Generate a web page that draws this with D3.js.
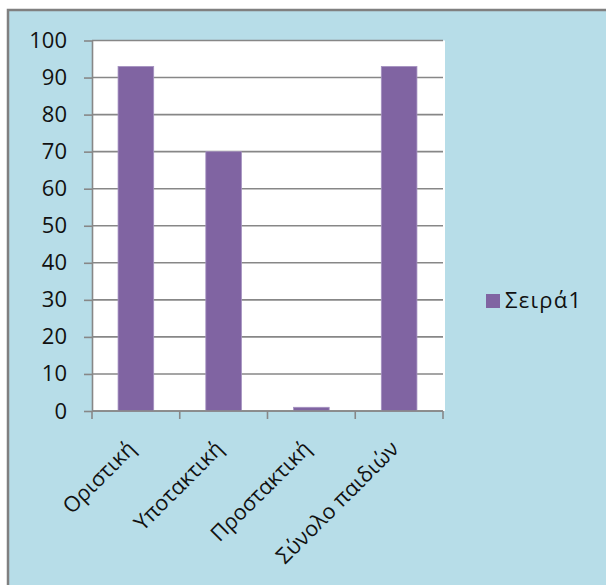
<!DOCTYPE html>
<html>
<head>
<meta charset="utf-8">
<script src="https://cdn.jsdelivr.net/npm/d3@7"></script>
<style>
  html, body { margin: 0; padding: 0; background: #ffffff; }
  svg { display: block; }
  text { font-family: "Open Sans", "Noto Sans", sans-serif; fill: #111; }
</style>
</head>
<body>
<svg id="chart" width="606" height="585"></svg>
<script>
// Chart data
const categories = ["Οριστική", "Υποτακτική", "Προστακτική", "Σύνολο παιδιών"];
const values = [93, 70, 1, 93];
const seriesName = "Σειρά1";
const yTicks = [0, 10, 20, 30, 40, 50, 60, 70, 80, 90, 100];

const svg = d3.select("#chart");

// Outer chart frame
svg.append("rect")
  .attr("x", 8).attr("y", 10)
  .attr("width", 606).attr("height", 585)
  .attr("fill", "#b7dde8")
  .attr("stroke", "#808080")
  .attr("stroke-width", 2.5);

const plot = { left: 92, right: 443, top: 40.5, bottom: 411 };

const x = d3.scaleBand()
  .domain(categories)
  .range([plot.left, plot.right])
  .paddingInner(0.594)
  .paddingOuter(0.297);

const y = d3.scaleLinear()
  .domain([0, 100])
  .range([plot.bottom, plot.top]);

// White plot area
svg.append("rect")
  .attr("x", plot.left).attr("y", plot.top)
  .attr("width", plot.right - plot.left + 2)
  .attr("height", plot.bottom - plot.top)
  .attr("fill", "#ffffff");

// Horizontal gridlines
svg.append("g")
  .selectAll("line")
  .data(yTicks)
  .join("line")
  .attr("x1", plot.left).attr("x2", plot.right)
  .attr("y1", d => y(d)).attr("y2", d => y(d))
  .attr("stroke", "#878787")
  .attr("stroke-width", 1.6);

// Value axis: tick stubs and labels
const gy = svg.append("g")
  .attr("transform", `translate(${plot.left},0)`)
  .call(d3.axisLeft(y).tickValues(yTicks).tickSize(8).tickSizeOuter(0).tickPadding(17));
gy.select(".domain")
  .attr("stroke", "#878787").attr("stroke-width", 1.6);
gy.selectAll(".tick line")
  .attr("stroke", "#878787")
  .attr("stroke-width", 1.6);
gy.selectAll(".tick text")
  .attr("font-size", 22)
  .attr("font-family", "Open Sans")
  .attr("fill", "#111");

// Bars
svg.append("g")
  .selectAll("rect")
  .data(values)
  .join("rect")
  .attr("x", (d, i) => x(categories[i]))
  .attr("y", d => y(d))
  .attr("width", x.bandwidth())
  .attr("height", d => y(0) - y(d))
  .attr("fill", "#8064a2")
  .attr("stroke", "#a592c0")
  .attr("stroke-width", 0.8);

// Category axis with boundary ticks
const boundaries = categories.map(c => x(c) - x.step() * x.paddingInner() / 2)
  .concat([plot.right]);
boundaries[0] = plot.left;
const gx = svg.append("g");
gx.append("line")
  .attr("x1", plot.left).attr("x2", plot.right)
  .attr("y1", plot.bottom).attr("y2", plot.bottom)
  .attr("stroke", "#878787").attr("stroke-width", 1.6);
gx.selectAll("line.tk")
  .data(boundaries)
  .join("line")
  .attr("class", "tk")
  .attr("x1", d => d).attr("x2", d => d)
  .attr("y1", plot.bottom).attr("y2", plot.bottom + 8)
  .attr("stroke", "#878787").attr("stroke-width", 1.6);

gx.selectAll("text")
  .data(categories)
  .join("text")
  .attr("text-anchor", "end")
  .attr("font-size", 21.5)
  .attr("transform", d => `translate(${x(d) + x.bandwidth() / 2 + 1},${plot.bottom + 39}) rotate(-45)`)
  .text(d => d);

// Legend
const legend = svg.append("g").attr("transform", "translate(486,294)");
legend.append("rect")
  .attr("width", 14).attr("height", 14)
  .attr("fill", "#8064a2");
legend.append("text")
  .attr("x", 19).attr("y", 14)
  .attr("font-size", 22)
  .attr("letter-spacing", 1.3)
  .text(seriesName);
</script>
</body>
</html>
